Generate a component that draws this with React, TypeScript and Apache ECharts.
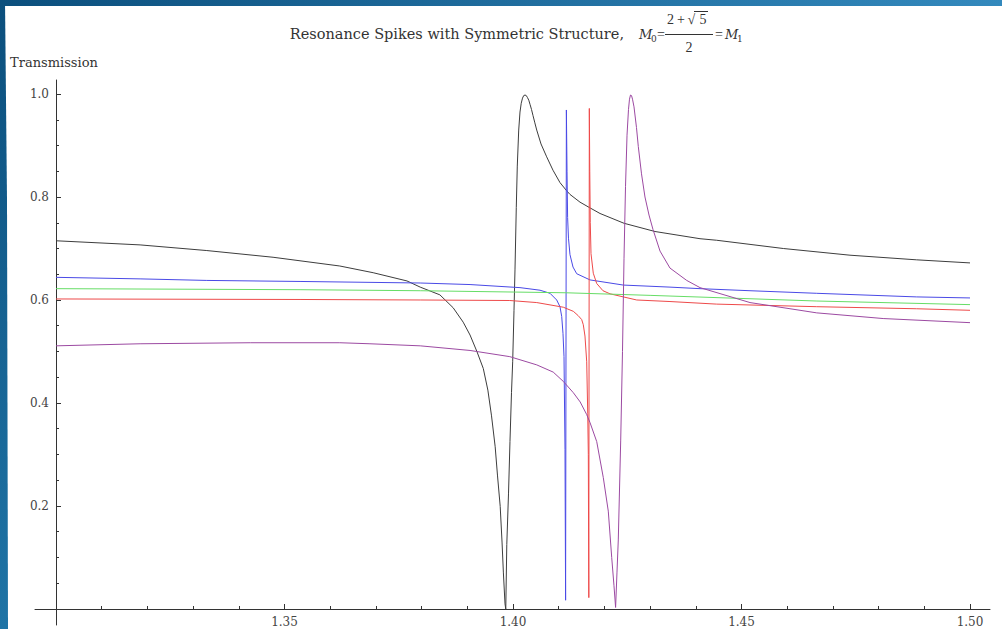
import React, { useEffect, useRef } from "react";
import * as echarts from "echarts";

const xMajorTicks = [1.35, 1.4, 1.45, 1.5];
const xMinorTicks = [1.31, 1.32, 1.33, 1.34, 1.36, 1.37, 1.38, 1.39, 1.41, 1.42, 1.43, 1.44, 1.46, 1.47, 1.48, 1.49];
const yMajorTicks = [0.2, 0.4, 0.6, 0.8, 1.0];
const yMinorTicks = [0.05, 0.1, 0.15, 0.25, 0.3, 0.35, 0.45, 0.5, 0.55, 0.65, 0.7, 0.75, 0.85, 0.9, 0.95];

const blackCurve = [
  [1.3, 0.715], [1.3184, 0.707], [1.333, 0.696], [1.3475, 0.683], [1.3621, 0.666], [1.3694, 0.653],
  [1.3768, 0.637], [1.3797, 0.625], [1.384, 0.61], [1.3869, 0.585], [1.3891, 0.557], [1.3906, 0.532],
  [1.3921, 0.5], [1.3935, 0.467], [1.3945, 0.425], [1.3953, 0.375], [1.3961, 0.315], [1.3966, 0.26],
  [1.3972, 0.199], [1.3976, 0.13], [1.3979, 0.07], [1.39825, 0.01], [1.39842, 0.0], [1.39864, 0.125],
  [1.39902, 0.225], [1.39934, 0.325], [1.39967, 0.42], [1.39993, 0.48], [1.40022, 0.58], [1.40044, 0.66],
  [1.40072, 0.78], [1.40094, 0.86], [1.40125, 0.93], [1.40153, 0.965], [1.4018, 0.982], [1.40208, 0.992],
  [1.40235, 0.997], [1.40263, 0.998], [1.4029, 0.997], [1.40317, 0.993], [1.40345, 0.988], [1.40372, 0.98],
  [1.40405, 0.97], [1.40438, 0.958], [1.40478, 0.944], [1.40519, 0.93], [1.40613, 0.903], [1.40737, 0.878],
  [1.40875, 0.852], [1.41028, 0.828], [1.41175, 0.812], [1.41247, 0.805], [1.41466, 0.79], [1.41663, 0.78],
  [1.41904, 0.768], [1.42429, 0.749], [1.43107, 0.733], [1.44092, 0.719], [1.44457, 0.716], [1.45186, 0.708],
  [1.45915, 0.7], [1.47374, 0.687], [1.48834, 0.678], [1.5, 0.672],
];

const blueCurve = [
  [1.3, 0.644], [1.3184, 0.641], [1.333, 0.638], [1.3534, 0.636], [1.3797, 0.633], [1.3906, 0.63],
  [1.40153, 0.624], [1.40591, 0.619], [1.4081, 0.613], [1.40956, 0.6], [1.41028, 0.587], [1.41066, 0.568],
  [1.41094, 0.535], [1.41116, 0.49], [1.41138, 0.31], [1.41151, 0.017], [1.41168, 0.969], [1.41182, 0.85],
  [1.41195, 0.76], [1.41214, 0.72], [1.41247, 0.688], [1.41313, 0.664], [1.41394, 0.651], [1.41685, 0.639],
  [1.42414, 0.629], [1.43435, 0.625], [1.44092, 0.622], [1.45186, 0.618], [1.46646, 0.613], [1.48834, 0.606],
  [1.5, 0.604],
];

const redCurve = [
  [1.3, 0.602], [1.3534, 0.601], [1.3797, 0.6], [1.3993, 0.599], [1.4052, 0.595], [1.411, 0.586],
  [1.4132, 0.578], [1.41422, 0.57], [1.41503, 0.562], [1.41538, 0.552], [1.41575, 0.53], [1.41613, 0.48],
  [1.41635, 0.38], [1.41648, 0.3], [1.41659, 0.022], [1.4167, 0.972], [1.4168, 0.85], [1.41691, 0.75],
  [1.41707, 0.69], [1.41757, 0.652], [1.41832, 0.632], [1.41969, 0.618], [1.42123, 0.612], [1.42707, 0.6],
  [1.43435, 0.597], [1.44457, 0.592], [1.46646, 0.587], [1.48834, 0.583], [1.5, 0.58],
];

const greenCurve = [
  [1.3, 0.622], [1.3534, 0.62], [1.3797, 0.618], [1.4117, 0.614], [1.43, 0.609], [1.4665, 0.598], [1.5, 0.591],
];

const purpleCurve = [
  [1.3, 0.511], [1.3184, 0.515], [1.3425, 0.517], [1.3621, 0.517], [1.3687, 0.515], [1.3797, 0.511],
  [1.3906, 0.502], [1.3993, 0.49], [1.4052, 0.474], [1.4088, 0.46], [1.411, 0.442], [1.4132, 0.42],
  [1.4147, 0.402], [1.4161, 0.378], [1.41685, 0.362], [1.41832, 0.325], [1.41976, 0.255], [1.42085, 0.19],
  [1.4216, 0.1], [1.4221, 0.045], [1.42245, 0.003], [1.42275, 0.07], [1.42304, 0.134], [1.42357, 0.328],
  [1.42396, 0.5], [1.42429, 0.68], [1.42462, 0.82], [1.42495, 0.92], [1.42527, 0.97], [1.42549, 0.99],
  [1.42571, 0.998], [1.42593, 0.997], [1.42615, 0.99], [1.42648, 0.975], [1.42702, 0.935], [1.42742, 0.898],
  [1.42812, 0.845], [1.42888, 0.8], [1.42976, 0.765], [1.43063, 0.737], [1.43217, 0.695], [1.43435, 0.662],
  [1.43801, 0.638], [1.44092, 0.624], [1.45186, 0.595], [1.46646, 0.575], [1.481, 0.564], [1.5, 0.556],
];

const seriesList = [
  { name: "black", data: blackCurve, color: "#3d3d3d" },
  { name: "blue", data: blueCurve, color: "#4a4ae6" },
  { name: "red", data: redCurve, color: "#ee4a4a" },
  { name: "green", data: greenCurve, color: "#66dd66" },
  { name: "purple", data: purpleCurve, color: "#9c4aa2" },
];

const FONT = '"DejaVu Serif", serif';
const MATH_FONT = '"Liberation Serif", serif';
const AXIS_COLOR = "#333";
const TEXT_COLOR = "#333";

function txt(text: string, x: number, y: number, font: string, align = "left") {
  return {
    type: "text",
    x,
    y,
    style: { text, font, fill: TEXT_COLOR, align, verticalAlign: "middle" },
  };
}

export default function App() {
  const ref = useRef<HTMLDivElement>(null);
  useEffect(() => {
    if (!ref.current) return;
    const chart = echarts.init(ref.current, null, { renderer: "svg" });
    const xMin = 1.295405;
    const xMax = 1.504376;
    const yMin = -0.0311;
    const yMax = 1.0272;
    const xBase = {
      type: "value",
      min: xMin,
      max: xMax,
      splitLine: { show: false },
      position: "bottom",
      offset: -16,
    };
    const yBase = {
      type: "value",
      min: yMin,
      max: yMax,
      splitLine: { show: false },
      position: "left",
      offset: -21,
    };
    chart.setOption({
      animation: false,
      backgroundColor: "#ffffff",
      grid: { left: 35, right: 12, top: 80, bottom: 4, containLabel: false },
      xAxis: [
        {
          ...xBase,
          axisLine: { show: true, onZero: false, lineStyle: { color: AXIS_COLOR, width: 1 } },
          axisTick: { show: true, inside: true, length: 5, customValues: xMajorTicks, lineStyle: { color: AXIS_COLOR } },
          axisLabel: {
            show: true,
            customValues: xMajorTicks,
            formatter: (v: number) => v.toFixed(2),
            fontFamily: FONT,
            fontSize: 12,
            color: "#444",
            margin: 7,
          },
        },
        {
          ...xBase,
          axisLine: { show: false, onZero: false },
          axisTick: { show: true, inside: true, length: 3, customValues: xMinorTicks, lineStyle: { color: AXIS_COLOR } },
          axisLabel: { show: false },
        },
      ],
      yAxis: [
        {
          ...yBase,
          axisLine: { show: true, onZero: false, lineStyle: { color: AXIS_COLOR, width: 1 } },
          axisTick: { show: true, inside: true, length: 5, customValues: yMajorTicks, lineStyle: { color: AXIS_COLOR } },
          axisLabel: {
            show: true,
            customValues: yMajorTicks,
            formatter: (v: number) => v.toFixed(1),
            fontFamily: FONT,
            fontSize: 12,
            color: "#444",
            margin: 7,
          },
        },
        {
          ...yBase,
          axisLine: { show: false, onZero: false },
          axisTick: { show: true, inside: true, length: 3, customValues: yMinorTicks, lineStyle: { color: AXIS_COLOR } },
          axisLabel: { show: false },
        },
      ],
      series: seriesList.map((s) => ({
        name: s.name,
        type: "line",
        data: s.data,
        xAxisIndex: 0,
        yAxisIndex: 0,
        showSymbol: false,
        symbol: "none",
        smooth: false,
        lineStyle: { color: s.color, width: 1 },
        itemStyle: { color: s.color },
        emphasis: { disabled: true },
      })),
      graphic: [
        {
          type: "polygon",
          z: 100,
          shape: { points: [[0, 0], [1002, 0], [1002, 6], [5, 6], [0, 6]] },
          style: {
            fill: new echarts.graphic.LinearGradient(0, 0, 1, 0, [
              { offset: 0, color: "#0b4f7d" },
              { offset: 1, color: "#3389bd" },
            ]),
          },
        },
        {
          type: "polygon",
          z: 100,
          shape: { points: [[0, 0], [5, 0], [7, 200], [8, 629], [0, 629]] },
          style: {
            fill: new echarts.graphic.LinearGradient(0, 0, 0, 1, [
              { offset: 0, color: "#0b4f7d" },
              { offset: 1, color: "#1f74a6" },
            ]),
          },
        },
        txt("Resonance Spikes with Symmetric Structure,", 624, 34, `14.5px ${FONT}`, "right"),
        txt("M", 639, 34, `italic 13px ${FONT}`),
        txt("0", 651, 38.5, `9px ${FONT}`),
        txt("=", 657, 34, `14px ${MATH_FONT}`),
        txt("2", 667, 19, `14px ${MATH_FONT}`),
        txt("+", 677, 19, `14px ${MATH_FONT}`),
        txt("\u221A", 687.5, 19, `14px ${MATH_FONT}`),
        txt("5", 699.5, 19, `14px ${MATH_FONT}`),
        {
          type: "line",
          shape: { x1: 694, y1: 11.5, x2: 708, y2: 11.5 },
          style: { stroke: TEXT_COLOR, lineWidth: 1 },
        },
        {
          type: "line",
          shape: { x1: 665, y1: 34.5, x2: 713, y2: 34.5 },
          style: { stroke: TEXT_COLOR, lineWidth: 1 },
        },
        txt("2", 689, 47, `14px ${MATH_FONT}`, "center"),
        txt("=", 715, 34, `14px ${MATH_FONT}`),
        txt("M", 725, 34, `italic 13px ${FONT}`),
        txt("1", 737, 38.5, `9px ${FONT}`),
        txt("Transmission", 10, 62, `13px ${FONT}`),
      ],
    });
    return () => chart.dispose();
  }, []);
  return (
    <div
      ref={ref}
      style={{ position: "absolute", left: 0, top: 0, width: 1002, height: 629, background: "#fff" }}
    />
  );
}
